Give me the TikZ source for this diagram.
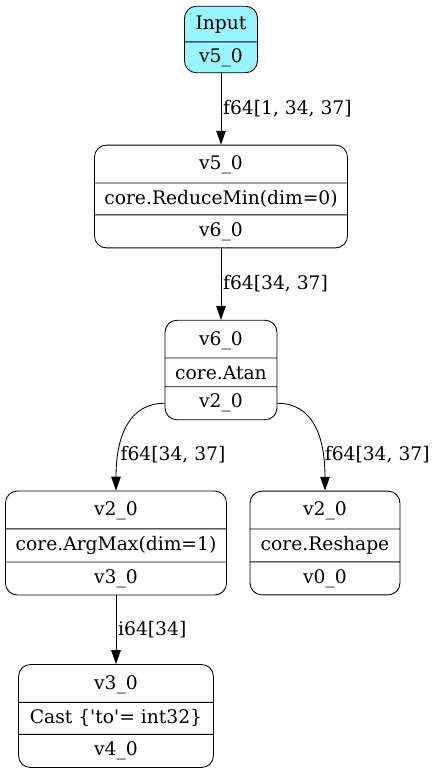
\documentclass[tikz,border=0pt]{standalone}
\usepackage{fontspec}
\setmainfont{DejaVu Serif}
\usetikzlibrary{shapes.multipart, arrows.meta}
\definecolor{inputcyan}{HTML}{98F5FF}
\tikzset{
	op/.style={rectangle split, rectangle split parts=3, draw=black, fill=white, rounded corners=5.5pt, text height=8pt, text depth=2.6pt, inner ysep=3.2pt, font=\fontsize{8.6}{11}\selectfont},
	lbl/.style={anchor=west, inner xsep=0.8pt, font=\fontsize{8.6}{11}\selectfont},
	flow/.style={-{Triangle[length=6.4pt, width=4.4pt]}}
}
\begin{document}
\begin{tikzpicture}[line cap=round, line join=round, x=0.46pt, y=-0.46pt]
	\useasboundingbox (0, 0) rectangle (434, 774);
	% Input layer
	\node [op, rectangle split parts=2, fill=inputcyan, inner ysep=2.7pt, minimum width=33.6pt] (node-input) at (221, 39.5) {Input \nodepart{two} v5\_0};
	% Reduce layer
	\node [op, minimum width=116.4pt] (node-reduce) at (221, 196.5) {v5\_0 \nodepart{two} core.ReduceMin(dim=0) \nodepart{three} v6\_0};
	% Atan layer
	\node [op, minimum width=51.5pt] (node-atan) at (221, 370) {v6\_0 \nodepart{two} core.Atan \nodepart{three} v2\_0};
	% Third layer
	\node [op, minimum width=101.7pt] (node-argmax) at (116, 543) {v2\_0 \nodepart{two} core.ArgMax(dim=1) \nodepart{three} v3\_0};
	\node [op, minimum width=69pt] (node-reshape) at (325, 543) {v2\_0 \nodepart{two} core.Reshape \nodepart{three} v0\_0};
	% Cast layer
	\node [op, minimum width=89.7pt] (node-cast) at (116, 716) {v3\_0 \nodepart{two} Cast \{\textquotesingle to\textquotesingle= int32\} \nodepart{three} v4\_0};
	% Straight arrows
	\draw [flow] (node-input) -- node [lbl] {f64[1, 34, 37]} (node-reduce);
	\draw [flow] (node-reduce) -- node [lbl] {f64[34, 37]} (node-atan);
	\draw [flow] (node-argmax) -- node [lbl] {i64[34]} (node-cast);
	% Curved arrows
	\draw [flow] (node-atan.three west) .. controls +(-35, 0) and +(0, -55) .. node [lbl, pos=0.76] {f64[34, 37]} (node-argmax.north);
	\draw [flow] (node-atan.three east) .. controls +(35, 0) and +(0, -55) .. node [lbl, pos=0.76] {f64[34, 37]} (node-reshape.north);
\end{tikzpicture}
\end{document}
